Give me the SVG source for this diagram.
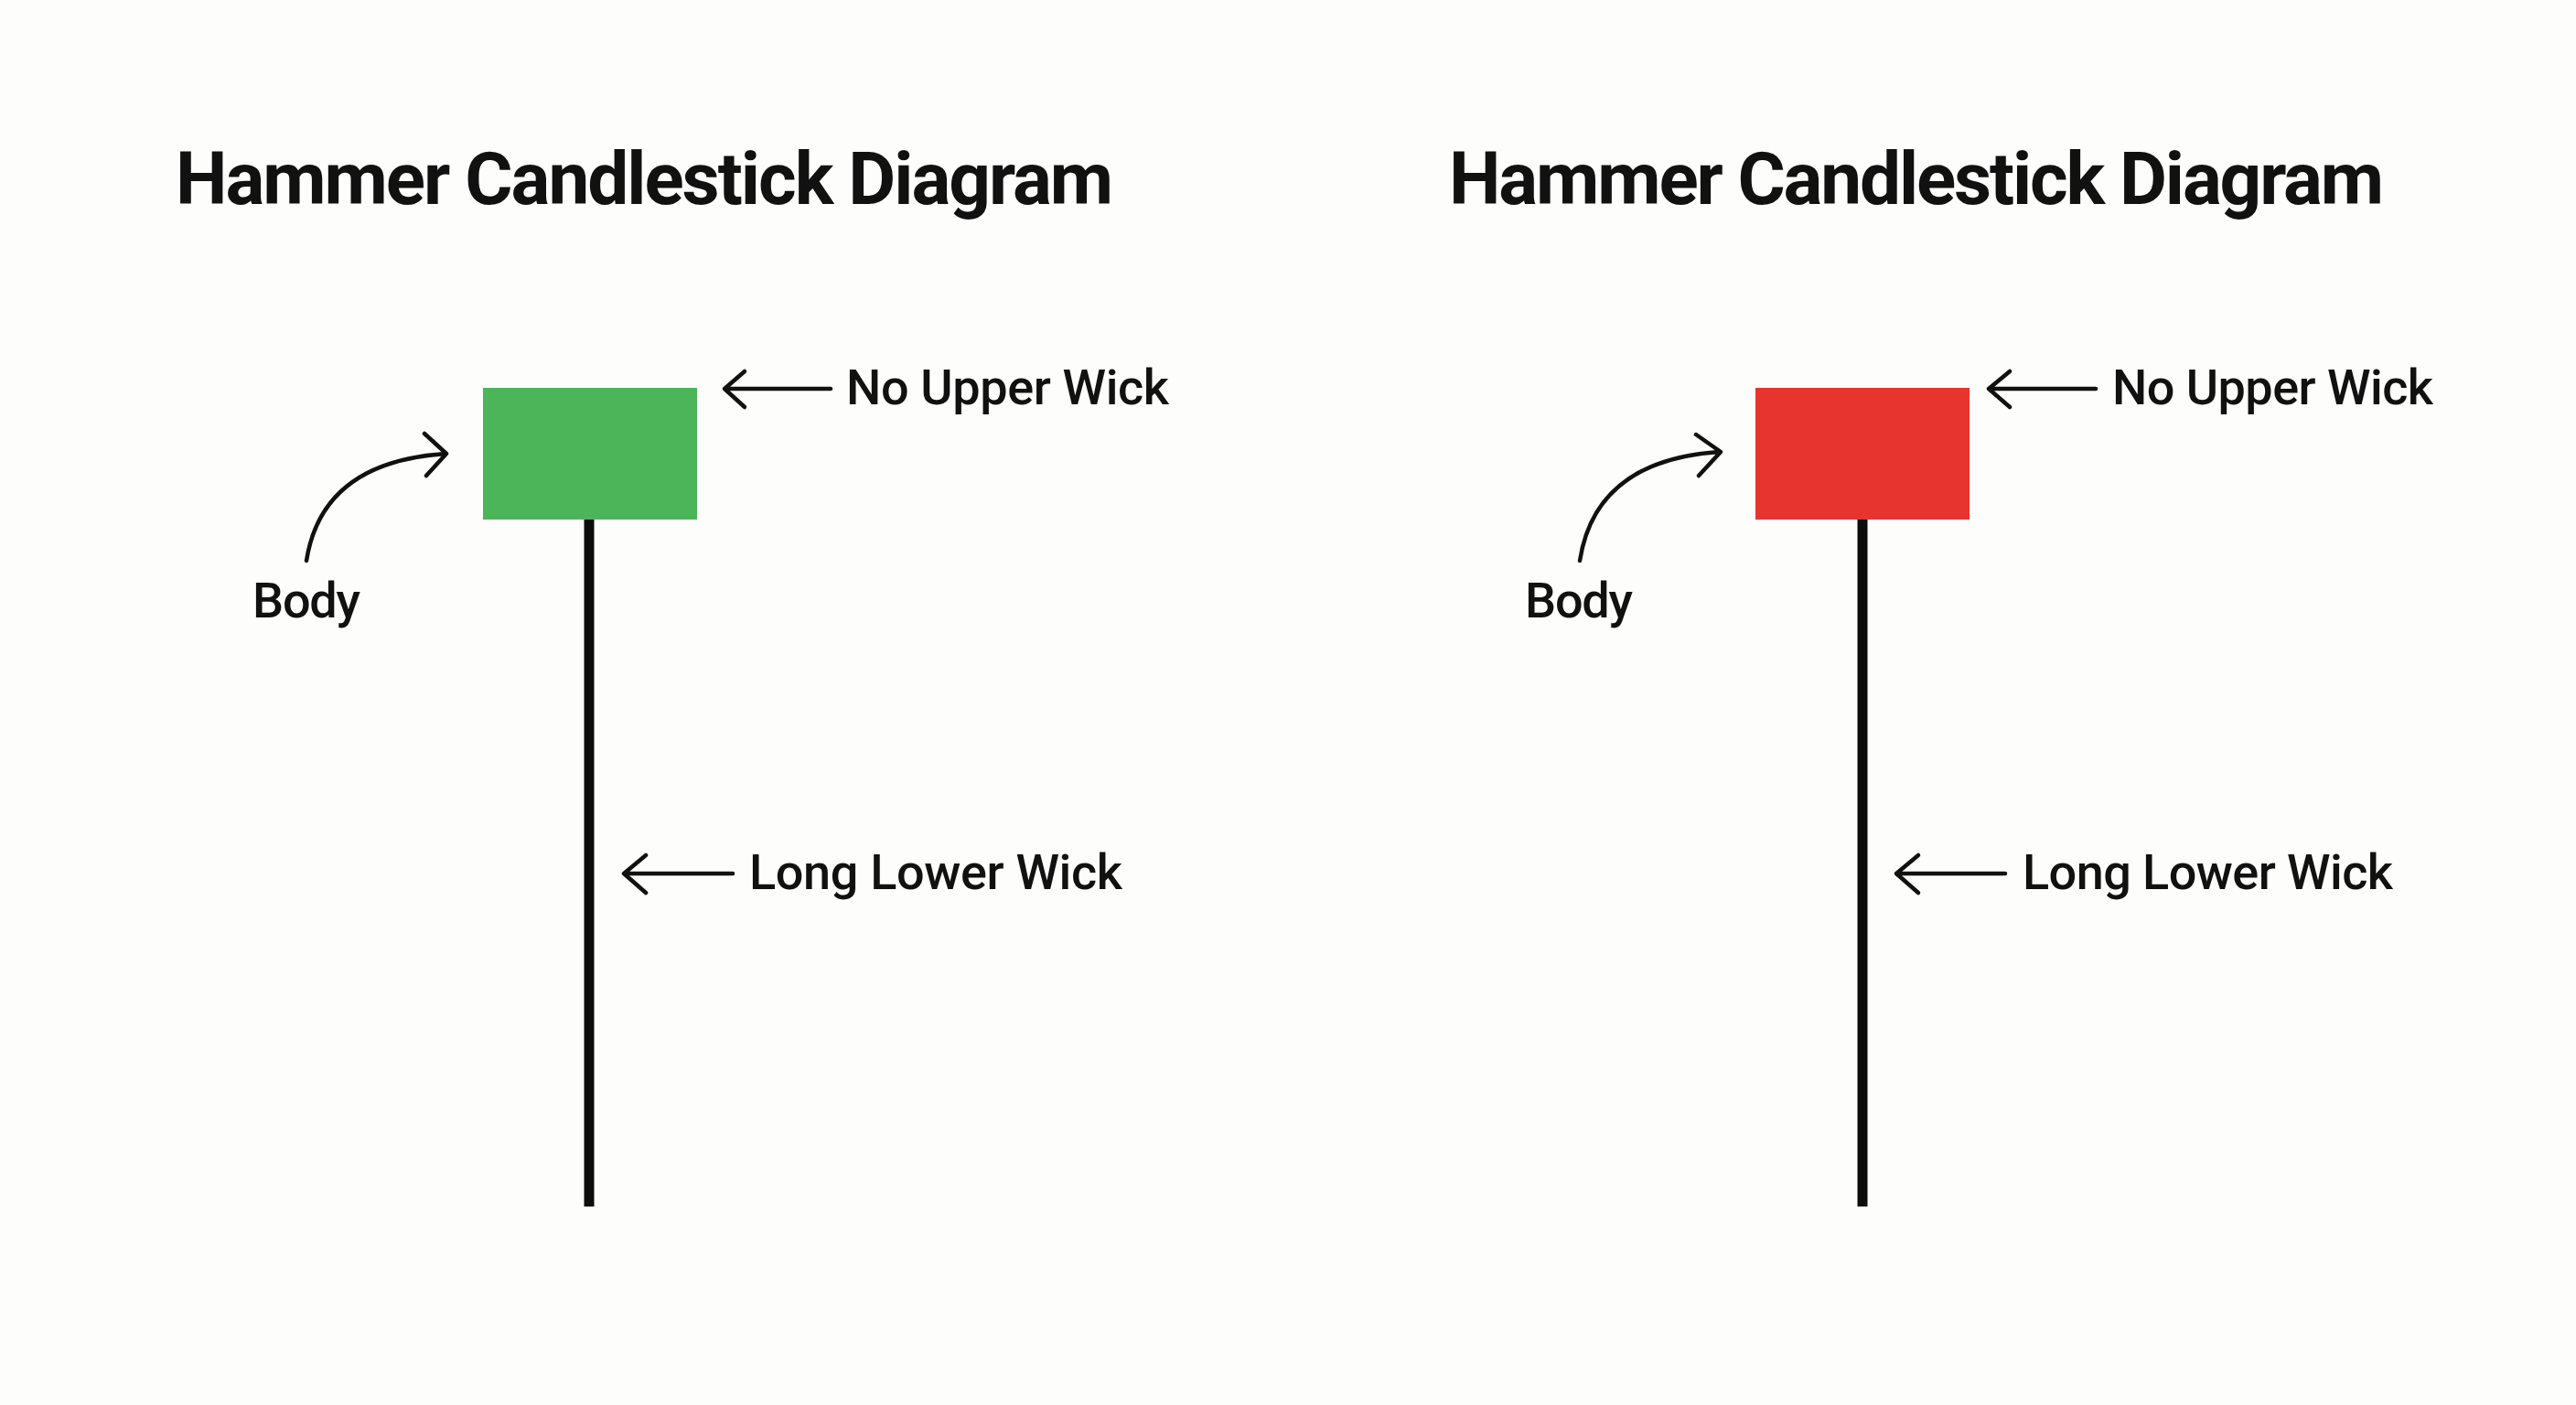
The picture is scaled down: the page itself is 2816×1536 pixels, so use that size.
<svg xmlns="http://www.w3.org/2000/svg" width="2816" height="1536" viewBox="0 0 2816 1536">
<style>
.title{font-family:Roboto,"Liberation Sans",sans-serif;font-weight:700;font-size:80px;fill:#111}
.lbl{font-family:Roboto,"Liberation Sans",sans-serif;font-weight:500;font-size:54px;fill:#111}
.wick{stroke:#0d0d0d;stroke-width:11;fill:none}
.arr{stroke:#111;stroke-width:4.5;fill:none;stroke-linecap:round;stroke-linejoin:round}
</style>
<rect width="2816" height="1536" fill="#fdfdfc"/>
<g id="left-panel">
  <text class="title" x="192" y="223" textLength="1025">Hammer Candlestick Diagram</text>
  <g id="left-wick"><line class="wick" x1="644" y1="566" x2="644" y2="1319"/></g>
  <g id="left-body"><rect x="528" y="424" width="234" height="144" fill="#4cb55a"/></g>
  <g id="left-labels">
    <text class="lbl" x="925" y="442" textLength="353">No Upper Wick</text>
    <text class="lbl" x="819" y="972" textLength="408">Long Lower Wick</text>
    <text class="lbl" x="276" y="675" textLength="118">Body</text>
  </g>
</g>
<g id="right-panel">
  <text class="title" x="1584" y="223" textLength="1022">Hammer Candlestick Diagram</text>
  <g id="right-wick"><line class="wick" x1="2036" y1="566" x2="2036" y2="1319"/></g>
  <g id="right-body"><rect x="1919" y="424" width="234" height="144" fill="#e8342f"/></g>
  <g id="right-labels">
    <text class="lbl" x="2309" y="442" textLength="351">No Upper Wick</text>
    <text class="lbl" x="2211" y="972" textLength="405">Long Lower Wick</text>
    <text class="lbl" x="1667" y="675" textLength="118">Body</text>
  </g>
</g>
<g id="connectors">
  <path class="arr" d="M908,425 H792 M814,406 L792,425 L814,445"/>
  <path class="arr" d="M801,955 H682 M706,935 L682,955 L706,976"/>
  <path class="arr" d="M335,613 Q352,505 487,496 M464,474 L488,496 L466,520"/>
  <path class="arr" d="M2291,425 H2174 M2197,406 L2174,425 L2197,445"/>
  <path class="arr" d="M2192,955 H2073 M2097,935 L2073,955 L2097,976"/>
  <path class="arr" d="M1727,613 Q1744,503 1880,494 M1854,475 L1881,494 L1857,520"/>
</g>
</svg>
